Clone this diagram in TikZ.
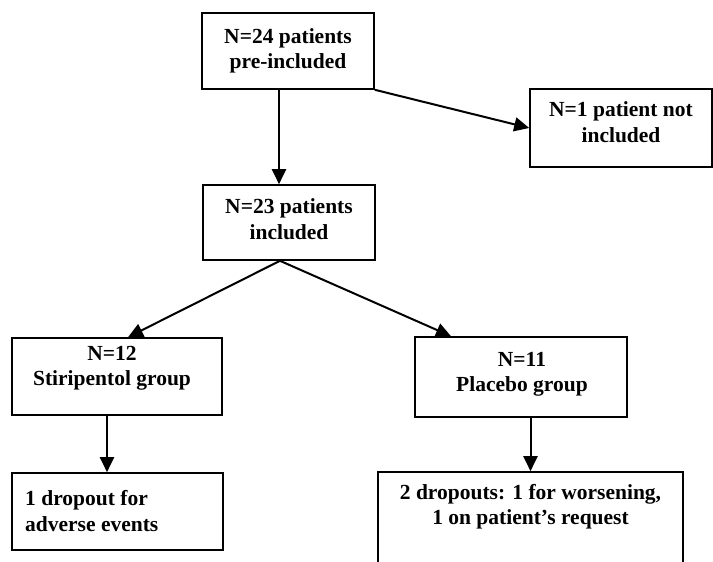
\documentclass[tikz,border=0pt]{standalone}
\usepackage{fontspec}
\setmainfont{Liberation Serif}
\usetikzlibrary{arrows.meta}
\begin{document}
\begin{tikzpicture}[x=1pt,y=-1pt,
  box/.style={draw, line width=1.6pt, inner sep=0pt},
  txt/.style={font=\bfseries\fontsize{21.5}{25.5}\selectfont, align=center, inner sep=0pt},
  arr/.style={line width=2pt, -{Triangle[length=15pt,width=14pt]}}]
\useasboundingbox (0,0) rectangle (713,562);
\clip (0,0) rectangle (713,562);
\fill[white] (0,0) rectangle (713,562);
% boxes
\node[box, minimum width=172pt, minimum height=76pt] (n1) at (288,51) {};
\node[box, minimum width=182pt, minimum height=78pt] (n2) at (621,128) {};
\node[box, minimum width=172pt, minimum height=75pt] (n3) at (289,222.5) {};
\node[box, minimum width=210pt, minimum height=77pt] (n4) at (117,376.5) {};
\node[box, minimum width=212pt, minimum height=80pt] (n5) at (521,377) {};
\node[box, minimum width=211pt, minimum height=77pt] (n6) at (117.5,511.5) {};
\node[box, minimum width=305pt, minimum height=103pt] (n7) at (530.5,523.5) {};
% texts
\node[txt] (t1) at (288,51) {N=24 patients\\pre-included};
\node[txt] (t2) at (621,122) {N=1 patient not\\included};
\node[txt] (t3) at (289,219) {N=23 patients\\included};
\node[txt] (t4) at (112,368.5) {N=12\\Stiripentol group};
\node[txt] (t5) at (522,374.5) {N=11\\Placebo group};
\node[txt, align=left, anchor=west] (t6) at (25,511) {1 dropout for\\adverse events};
\node[txt] (t7) at (530.5,506.5) {2 dropouts: 1 for worsening,\\1 on patient’s request};
% connectors
\draw[arr] ([xshift=-9pt]n1.south) -- ([xshift=-10pt]n3.north);
\draw[arr] (n1.south east) -- (n2.west);
\draw[arr] ([xshift=-9pt]n3.south) -- ([xshift=11pt]n4.north);
\draw[arr] ([xshift=-9pt]n3.south) -- ([xshift=-70pt]n5.north);
\draw[arr] ([xshift=-10pt]n4.south) -- ([xshift=-10.5pt]n6.north);
\draw[arr] (n5.south -| n7.north) -- (n7.north);
\end{tikzpicture}
\end{document}
